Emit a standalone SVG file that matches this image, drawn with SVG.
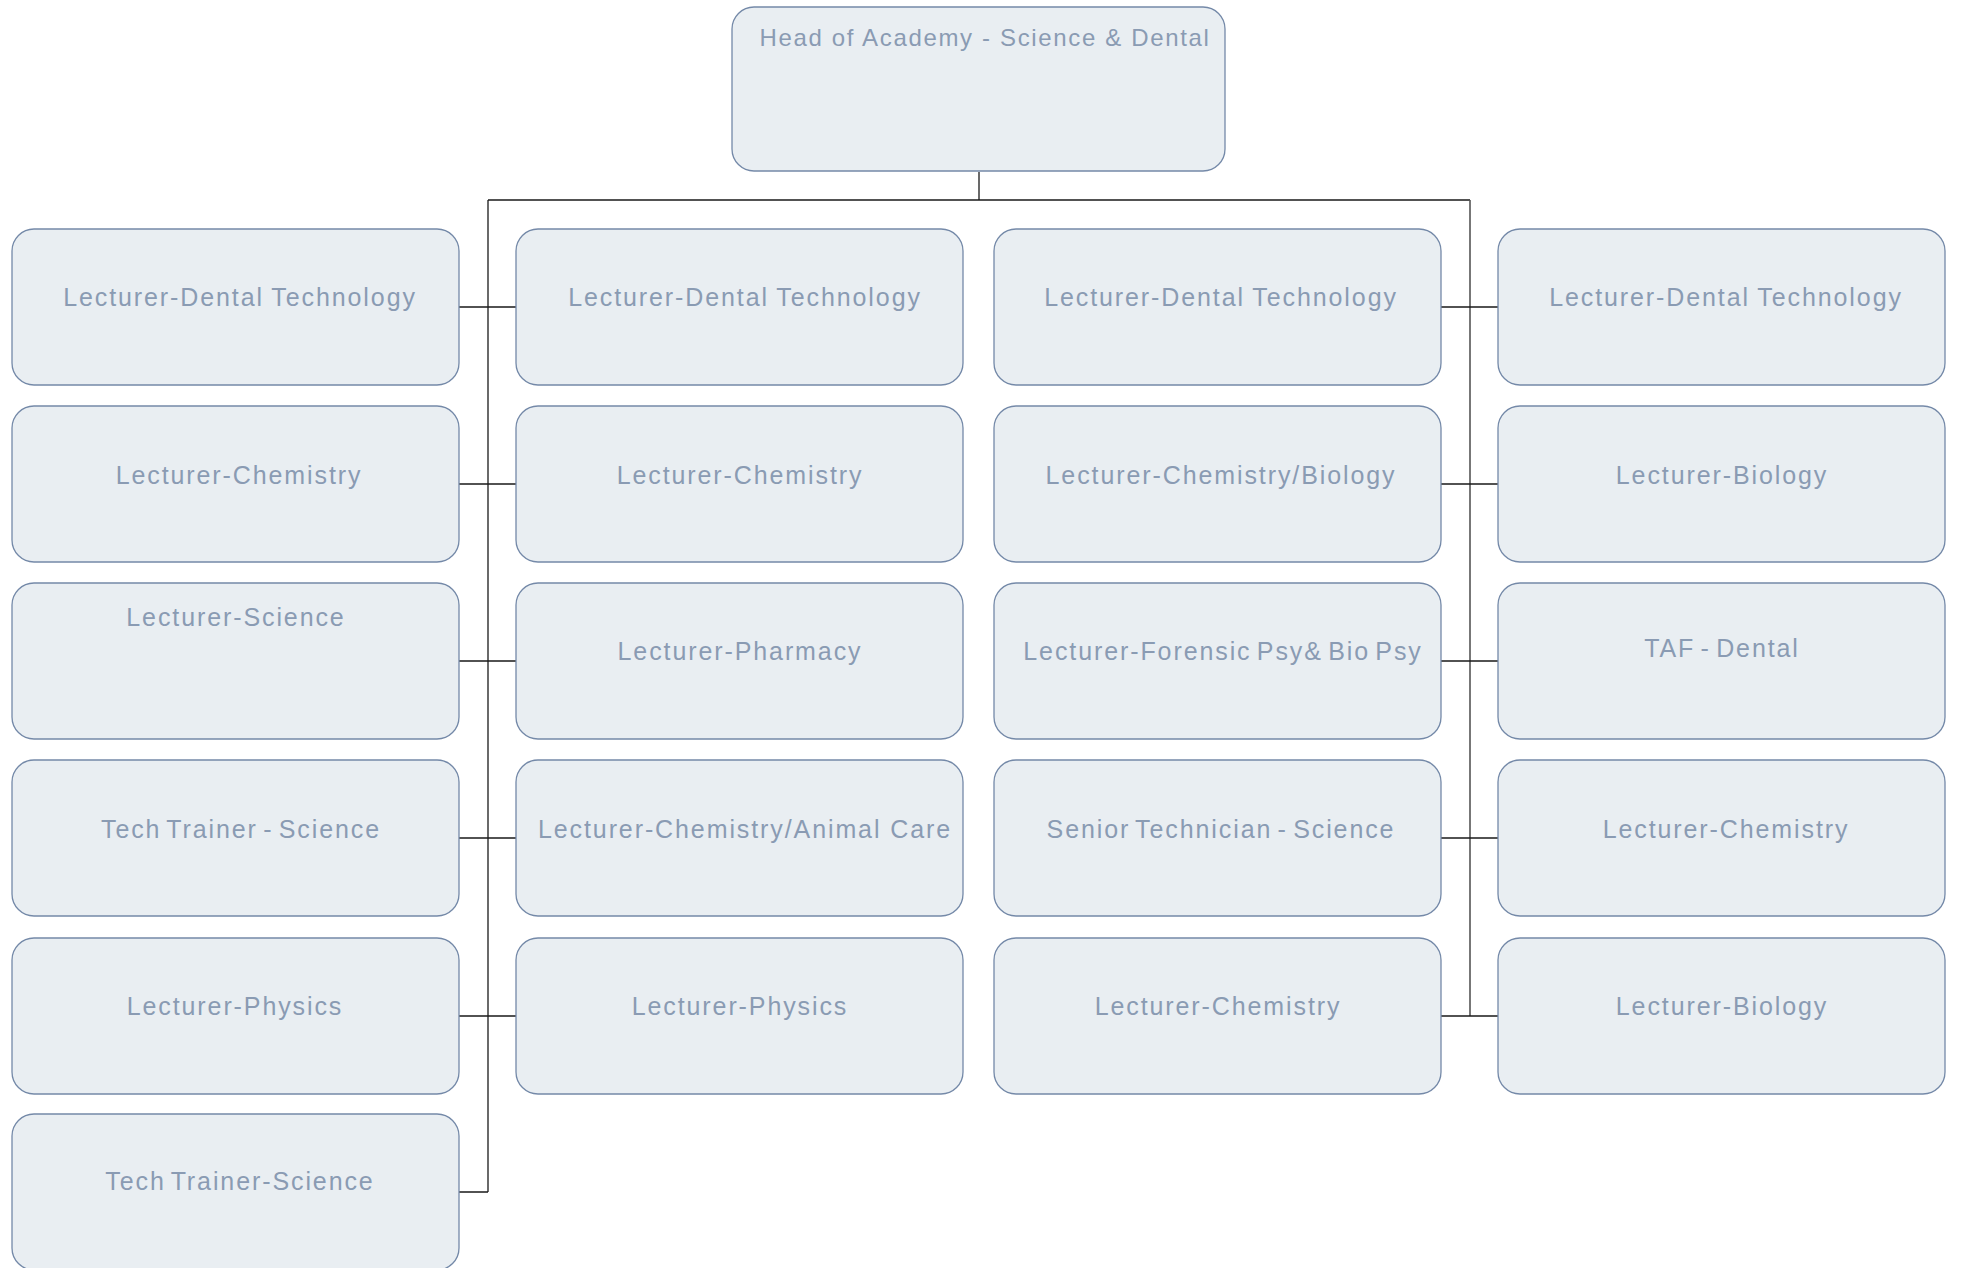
<svg xmlns="http://www.w3.org/2000/svg" width="1961" height="1268" viewBox="0 0 1961 1268">
<style>
.box{fill:#E9EEF2;stroke:#7489A8;stroke-width:1.3}
.t{font-family:"Liberation Sans",Arial,sans-serif;font-size:25px;fill:#8A9BB3;letter-spacing:1.9px;word-spacing:-3.5px;text-anchor:middle}
.h{font-size:24px;letter-spacing:1.65px;word-spacing:0}
.dt{word-spacing:-1px}
.ws0{word-spacing:0}
.c{stroke:#1a1a1a;stroke-width:1.3;fill:none}
.c2{stroke:#555;stroke-width:1.6;fill:none}
</style>
<rect width="1961" height="1268" fill="#fff"/>
<g id="connectors">
<path class="c" d="M979 172V200M488 200H1470"/>
<path class="c" d="M488 200V1192"/>
<path class="c2" d="M1470 200V1016"/>
<path class="c" d="M459 307H516M459 484H516M459 661H516M459 838H516M459 1016H516M459 1192H488"/>
<path class="c" d="M1441 307H1498M1441 484H1498M1441 661H1498M1441 838H1498M1441 1016H1498"/>
</g>
<g id="head"><rect class="box" x="732" y="7" width="493" height="164" rx="22"/><text class="t h" x="985" y="46">Head of Academy - Science &amp; Dental</text></g>
<g id="n11"><rect class="box" x="12" y="229" width="447" height="156" rx="22"/><text class="t dt" x="240" y="306">Lecturer-Dental Technology</text></g>
<g id="n12"><rect class="box" x="12" y="406" width="447" height="156" rx="22"/><text class="t" x="239" y="484">Lecturer-Chemistry</text></g>
<g id="n13"><rect class="box" x="12" y="583" width="447" height="156" rx="22"/><text class="t" x="236" y="626">Lecturer-Science</text></g>
<g id="n14"><rect class="box" x="12" y="760" width="447" height="156" rx="22"/><text class="t" x="241" y="838">Tech Trainer - Science</text></g>
<g id="n15"><rect class="box" x="12" y="938" width="447" height="156" rx="22"/><text class="t" x="235" y="1015">Lecturer-Physics</text></g>
<g id="n16"><rect class="box" x="12" y="1114" width="447" height="156" rx="22"/><text class="t" x="240" y="1190">Tech Trainer-Science</text></g>
<g id="n21"><rect class="box" x="516" y="229" width="447" height="156" rx="22"/><text class="t dt" x="745" y="306">Lecturer-Dental Technology</text></g>
<g id="n22"><rect class="box" x="516" y="406" width="447" height="156" rx="22"/><text class="t" x="740" y="484">Lecturer-Chemistry</text></g>
<g id="n23"><rect class="box" x="516" y="583" width="447" height="156" rx="22"/><text class="t" x="740" y="660">Lecturer-Pharmacy</text></g>
<g id="n24"><rect class="box" x="516" y="760" width="447" height="156" rx="22"/><text class="t ws0" x="745" y="838">Lecturer-Chemistry/Animal Care</text></g>
<g id="n25"><rect class="box" x="516" y="938" width="447" height="156" rx="22"/><text class="t" x="740" y="1015">Lecturer-Physics</text></g>
<g id="n31"><rect class="box" x="994" y="229" width="447" height="156" rx="22"/><text class="t dt" x="1221" y="306">Lecturer-Dental Technology</text></g>
<g id="n32"><rect class="box" x="994" y="406" width="447" height="156" rx="22"/><text class="t" x="1221" y="484">Lecturer-Chemistry/Biology</text></g>
<g id="n33"><rect class="box" x="994" y="583" width="447" height="156" rx="22"/><text class="t" x="1223" y="660">Lecturer-Forensic Psy&amp; Bio Psy</text></g>
<g id="n34"><rect class="box" x="994" y="760" width="447" height="156" rx="22"/><text class="t" x="1221" y="838">Senior Technician - Science</text></g>
<g id="n35"><rect class="box" x="994" y="938" width="447" height="156" rx="22"/><text class="t" x="1218" y="1015">Lecturer-Chemistry</text></g>
<g id="n41"><rect class="box" x="1498" y="229" width="447" height="156" rx="22"/><text class="t dt" x="1726" y="306">Lecturer-Dental Technology</text></g>
<g id="n42"><rect class="box" x="1498" y="406" width="447" height="156" rx="22"/><text class="t" x="1722" y="484">Lecturer-Biology</text></g>
<g id="n43"><rect class="box" x="1498" y="583" width="447" height="156" rx="22"/><text class="t" x="1722" y="657">TAF - Dental</text></g>
<g id="n44"><rect class="box" x="1498" y="760" width="447" height="156" rx="22"/><text class="t" x="1726" y="838">Lecturer-Chemistry</text></g>
<g id="n45"><rect class="box" x="1498" y="938" width="447" height="156" rx="22"/><text class="t" x="1722" y="1015">Lecturer-Biology</text></g>
</svg>
